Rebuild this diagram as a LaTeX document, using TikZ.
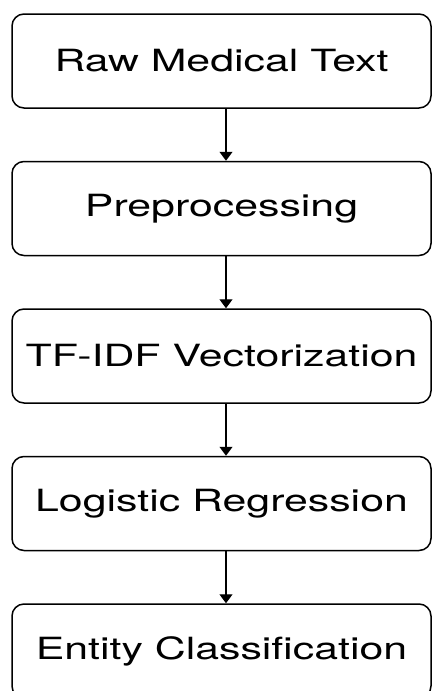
\documentclass[tikz,border=0pt]{standalone}
\usepackage{fontspec}
\newfontfamily\stagefont[FakeStretch=1.4]{TeX Gyre Heros}
\usetikzlibrary{positioning,arrows.meta}

\tikzset{
  stage/.style={draw, line width=1.5pt, rounded corners=12pt,
    minimum width=419pt, minimum height=94pt, inner sep=0pt,
    font=\stagefont\fontsize{30.6}{36}\selectfont},
  flow/.style={line width=1.3pt, -{Triangle[width=13pt,length=9pt]}}
}

\begin{document}
\begin{tikzpicture}[x=1pt,y=1pt,node distance=52pt]
        \useasboundingbox (0,0) rectangle (433,-691);
        \node[stage] (raw) at (221.5,-61) {Raw Medical Text};
        \node[stage, below=of raw] (prep) {Preprocessing};
        \node[stage, below=of prep] (tfidf) {TF-IDF Vectorization};
        \node[stage, below=of tfidf] (logreg) {Logistic Regression};
        \node[stage, below=of logreg] (entity) {Entity Classification};
        % arrows sit a little right of the box centres
        \draw[flow] ([xshift=4.5pt]raw.south) -- ([xshift=4.5pt]prep.north);
        \draw[flow] ([xshift=4.5pt]prep.south) -- ([xshift=4.5pt]tfidf.north);
        \draw[flow] ([xshift=4.5pt]tfidf.south) -- ([xshift=4.5pt]logreg.north);
        \draw[flow] ([xshift=4.5pt]logreg.south) -- ([xshift=4.5pt]entity.north);
\end{tikzpicture}
\end{document}
